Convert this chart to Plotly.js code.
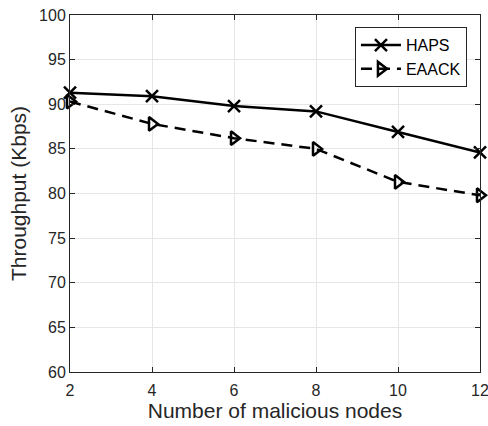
<!DOCTYPE html>
<html>
<head>
<script src="https://cdn.plot.ly/plotly-3.0.1.min.js"></script>
<style>body{margin:0;}</style>
</head>
<body>
<div id="chart" style="width:488px;height:426px;"></div>
<script>
var xNodes = [2, 4, 6, 8, 10, 12];
var hapsThroughput = [91.3, 90.9, 89.8, 89.2, 86.9, 84.6];
var eaackThroughput = [90.3, 87.8, 86.2, 85.0, 81.3, 79.8];
var yTicks = [60, 65, 70, 75, 80, 85, 90, 95, 100];

var traces = [
  {x: xNodes, y: hapsThroughput, name: 'HAPS', mode: 'lines+markers', type: 'scatter',
   line: {color: '#000', width: 2.5, dash: 'solid'},
   marker: {symbol: 'x-thin-open', size: 12, color: '#000', line: {color: '#000', width: 2.5}},
   cliponaxis: false},
  {x: xNodes, y: eaackThroughput, name: 'EAACK', mode: 'lines+markers', type: 'scatter',
   line: {color: '#000', width: 2.5, dash: '11px,7px'},
   marker: {symbol: 'triangle-right-open', size: 12, color: '#000', line: {color: '#000', width: 2.5}},
   cliponaxis: false}
];

var fontFam = 'Liberation Sans, Arial, sans-serif';
var axisCommon = {
  showline: true, linecolor: '#262626', linewidth: 1, mirror: 'ticks',
  ticks: 'inside', ticklen: 5, tickcolor: '#262626',
  showgrid: true, gridcolor: '#e6e6e6', gridwidth: 1, zeroline: false,
  ticklabeloverflow: 'allow',
  tickfont: {family: fontFam, size: 16, color: '#262626'}
};

var layout = {
  width: 488, height: 426,
  margin: {l: 70, r: 8, t: 15, b: 54},
  paper_bgcolor: '#fff', plot_bgcolor: '#fff',
  showlegend: true,
  legend: {x: 0.695, y: 0.966, xanchor: 'left', yanchor: 'top',
    bordercolor: '#262626', borderwidth: 1, bgcolor: '#fff',
    font: {family: fontFam, size: 16, color: '#000'},
    tracegroupgap: 0, itemwidth: 40},
  xaxis: Object.assign({}, axisCommon, {range: [2, 12], tickvals: xNodes,
    ticklabelstandoff: 4,
    title: {text: 'Number of malicious nodes', standoff: 4,
      font: {family: fontFam, size: 21, color: '#262626'}}}),
  yaxis: Object.assign({}, axisCommon, {range: [60, 100], tickvals: yTicks,
    title: {text: 'Throughput (Kbps)', standoff: 6,
      font: {family: fontFam, size: 21, color: '#262626'}}})
};

Plotly.newPlot('chart', traces, layout, {displayModeBar: false, staticPlot: true});
</script>
</body>
</html>
